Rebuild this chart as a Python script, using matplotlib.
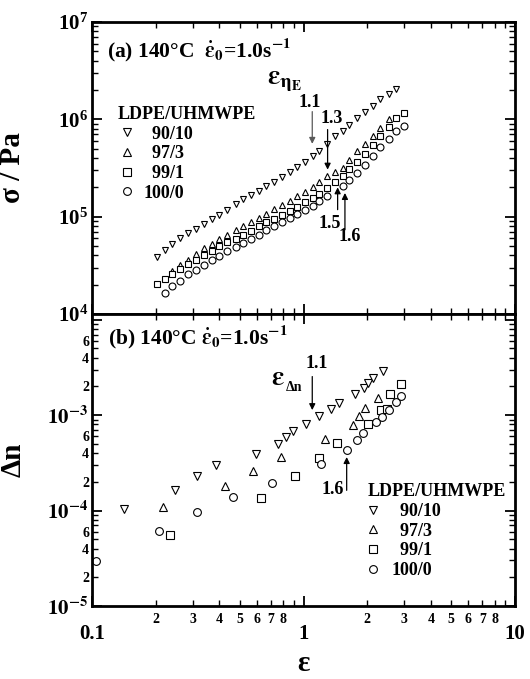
import matplotlib.pyplot as plt
from matplotlib.ticker import FixedLocator, FixedFormatter, NullFormatter, LogLocator, LogFormatterMathtext
from matplotlib.lines import Line2D

plt.rcParams['font.family'] = ['Liberation Serif', 'DejaVu Serif']
plt.rcParams['font.weight'] = 'bold'
plt.rcParams['mathtext.fontset'] = 'stix'
plt.rcParams['mathtext.default'] = 'bf'

# ---- (a) tensile stress growth, sigma / Pa vs Hencky strain
eps_a_9010 = [0.202, 0.221, 0.240, 0.261, 0.285, 0.310, 0.337, 0.368, 0.400, 0.436, 0.477,
              0.518, 0.562, 0.614, 0.667, 0.724, 0.791, 0.859, 0.933, 1.018, 1.107, 1.189,
              1.293, 1.411, 1.533, 1.636, 1.791, 1.954, 2.124, 2.308, 2.527, 2.737]
sig_9010 = [3.89e4, 4.56e4, 5.22e4, 5.97e4, 6.77e4, 7.45e4, 8.39e4, 9.44e4, 1.046e5, 1.178e5,
            1.337e5, 1.517e5, 1.654e5, 1.834e5, 2.05e5, 2.29e5, 2.56e5, 2.85e5, 3.21e5, 3.62e5,
            4.17e5, 4.70e5, 5.59e5, 6.70e5, 7.55e5, 8.84e5, 1.035e6, 1.18e6, 1.366e6, 1.60e6,
            1.83e6, 2.06e6]

eps_a_973 = [0.240, 0.261, 0.285, 0.310, 0.337, 0.368, 0.400, 0.436, 0.477, 0.518, 0.562,
             0.614, 0.667, 0.724, 0.791, 0.859, 0.933, 1.018, 1.107, 1.189, 1.293, 1.411,
             1.533, 1.636, 1.791, 1.954, 2.124, 2.308, 2.527]
sig_973 = [2.79e4, 3.20e4, 3.60e4, 4.12e4, 4.75e4, 5.22e4, 5.87e4, 6.51e4, 7.33e4, 8.06e4,
           8.79e4, 9.66e4, 1.071e5, 1.197e5, 1.326e5, 1.458e5, 1.615e5, 1.79e5, 2.00e5, 2.25e5,
           2.60e5, 2.88e5, 3.16e5, 3.85e5, 4.70e5, 5.63e5, 6.70e5, 8.16e5, 1.01e6]

eps_a_991 = [0.202, 0.221, 0.240, 0.261, 0.285, 0.310, 0.337, 0.368, 0.400, 0.436, 0.477,
             0.518, 0.562, 0.614, 0.667, 0.724, 0.791, 0.859, 0.933, 1.018, 1.107, 1.189,
             1.293, 1.411, 1.533, 1.636, 1.791, 1.954, 2.124, 2.308, 2.527, 2.737, 2.995]
sig_991 = [2.04e4, 2.28e4, 2.56e4, 2.88e4, 3.25e4, 3.60e4, 4.02e4, 4.46e4, 4.94e4, 5.47e4,
           5.92e4, 6.51e4, 7.16e4, 7.93e4, 8.72e4, 9.44e4, 1.046e5, 1.132e5, 1.255e5, 1.401e5,
           1.553e5, 1.708e5, 1.968e5, 2.27e5, 2.60e5, 3.09e5, 3.65e5, 4.45e5, 5.41e5, 6.70e5,
           8.36e5, 1.035e6, 1.166e6]

eps_a_1000 = [0.221, 0.240, 0.261, 0.285, 0.310, 0.337, 0.368, 0.400, 0.436, 0.477, 0.518,
              0.562, 0.614, 0.667, 0.724, 0.791, 0.859, 0.933, 1.018, 1.107, 1.189, 1.293,
              1.533, 1.636, 1.791, 1.954, 2.124, 2.308, 2.527, 2.737, 2.995]
sig_1000 = [1.66e4, 1.94e4, 2.19e4, 2.56e4, 2.84e4, 3.20e4, 3.60e4, 3.96e4, 4.39e4, 4.86e4,
            5.34e4, 5.87e4, 6.51e4, 7.21e4, 7.93e4, 8.72e4, 9.66e4, 1.062e5, 1.178e5, 1.295e5,
            1.446e5, 1.615e5, 2.05e5, 2.40e5, 2.81e5, 3.37e5, 4.17e5, 5.16e5, 6.29e5, 7.55e5,
            8.49e5]

# ---- (b) birefringence growth
eps_b_9010 = [0.141, 0.248, 0.313, 0.386, 0.597, 0.760, 0.824, 0.894, 1.026, 1.188, 1.349,
              1.479, 1.755, 1.923, 2.017, 2.131, 2.378]
dn_9010 = [1.04e-4, 1.65e-4, 2.28e-4, 2.98e-4, 3.89e-4, 5.04e-4, 5.92e-4, 6.84e-4, 8.17e-4,
           9.75e-4, 1.156e-3, 1.327e-3, 1.66e-3, 1.95e-3, 2.15e-3, 2.43e-3, 2.93e-3]

eps_b_973 = [0.217, 0.424, 0.575, 0.785, 1.264, 1.711, 1.821, 1.945, 2.25]
dn_973 = [1.08e-4, 1.83e-4, 2.59e-4, 3.64e-4, 5.58e-4, 7.85e-4, 9.84e-4, 1.175e-3, 1.52e-3]

eps_b_991 = [0.233, 0.631, 0.912, 1.179, 1.436, 2.017, 2.317, 2.484, 2.577, 2.875]
dn_991 = [5.59e-5, 1.36e-4, 2.33e-4, 3.58e-4, 5.12e-4, 8.17e-4, 1.13e-3, 1.156e-3, 1.65e-3, 2.12e-3]

eps_b_1000 = [0.1045, 0.208, 0.313, 0.462, 0.711, 1.209, 1.603, 1.795, 1.91, 2.21, 2.36, 2.53,
              2.73, 2.875]
dn_1000 = [2.93e-5, 6.16e-5, 9.6e-5, 1.38e-4, 1.95e-4, 3.05e-4, 4.28e-4, 5.46e-4, 6.52e-4,
           8.51e-4, 9.6e-4, 1.13e-3, 1.38e-3, 1.60e-3]

blend_labels = ['  90/10', '  97/3', '  99/1', '100/0']
markers = ['v', '^', 's', 'o']

# tick labels
x_major = [0.1, 1, 10]
x_major_labels = ['0.1', '1', '10']
x_minor = [0.2, 0.3, 0.4, 0.5, 0.6, 0.7, 0.8, 0.9, 2, 3, 4, 5, 6, 7, 8, 9]
x_minor_labels = ['2', '3', '4', '5', '6', '7', '8', '', '2', '3', '4', '5', '6', '7', '8', '']
dn_major = [1e-5, 1e-4, 1e-3, 1e-2]
dn_major_labels = [r'$10^{-5}$', r'$10^{-4}$', r'$10^{-3}$', '']
dn_minor = [m * d for d in [1e-5, 1e-4, 1e-3] for m in range(2, 10)]
dn_minor_labels = [str(m) if m in (2, 4, 6) else '' for d in range(3) for m in range(2, 10)]

fig = plt.figure(figsize=(5.30, 6.79), dpi=100)
ax1 = fig.add_axes([0.1736, 0.5376, 0.7981, 0.4300])
ax2 = fig.add_axes([0.1736, 0.1075, 0.7981, 0.4301])

ms = 5.0
mew = 0.8
data_a = [(eps_a_9010, sig_9010), (eps_a_973, sig_973), (eps_a_991, sig_991), (eps_a_1000, sig_1000)]
data_b = [(eps_b_9010, dn_9010), (eps_b_973, dn_973), (eps_b_991, dn_991), (eps_b_1000, dn_1000)]
for (x, y), m in zip(data_a, markers):
    ax1.plot(x, y, ls='none', marker=m, ms=ms, mfc='white', mec='black', mew=mew)
for (x, y), m in zip(data_b, markers):
    ax2.plot(x, y, ls='none', marker=m, ms=ms + 0.6, mfc='white', mec='black', mew=mew)

for ax in (ax1, ax2):
    ax.set_xscale('log')
    ax.set_yscale('log')
    ax.set_xlim(0.1, 10)
    for s in ax.spines.values():
        s.set_linewidth(2)
    ax.tick_params(which='both', direction='in', top=True, right=True)
    ax.tick_params(which='major', length=7, width=1.3)
    ax.tick_params(which='minor', length=4, width=1.0)
    ax.xaxis.set_major_locator(FixedLocator(x_major))
    ax.xaxis.set_minor_locator(FixedLocator(x_minor))

ax1.set_ylim(1e4, 1e7)
ax1.xaxis.set_major_formatter(NullFormatter())
ax1.xaxis.set_minor_formatter(NullFormatter())
ax1.yaxis.set_major_locator(LogLocator(base=10))
ax1.yaxis.set_minor_locator(LogLocator(base=10, subs=range(2, 10)))
ax1.yaxis.set_major_formatter(LogFormatterMathtext())
ax1.yaxis.set_minor_formatter(NullFormatter())
ax1.tick_params(axis='y', which='major', labelsize=15, pad=3)

ax2.set_ylim(1e-5, 1.15e-2)
ax2.xaxis.set_major_formatter(FixedFormatter(x_major_labels))
ax2.xaxis.set_minor_formatter(FixedFormatter(x_minor_labels))
ax2.tick_params(axis='x', which='major', labelsize=15, pad=13)
ax2.tick_params(axis='x', which='minor', labelsize=10, pad=5)
ax2.yaxis.set_major_locator(FixedLocator(dn_major))
ax2.yaxis.set_major_formatter(FixedFormatter(dn_major_labels))
ax2.yaxis.set_minor_locator(FixedLocator(dn_minor))
ax2.yaxis.set_minor_formatter(FixedFormatter(dn_minor_labels))
ax2.tick_params(axis='y', which='major', labelsize=15, pad=3)
ax2.tick_params(axis='y', which='minor', labelsize=10, pad=2)

ax1.set_ylabel('σ / Pa', fontsize=21, fontweight='bold')
ax1.yaxis.set_label_coords(-0.155, 0.5)
ax2.set_ylabel('Δn', fontsize=21, fontweight='bold')
ax2.yaxis.set_label_coords(-0.155, 0.5)
ax2.set_xlabel('ε', fontsize=21, fontweight='bold')
ax2.xaxis.set_label_coords(0.5, -0.15)

ax1.text(0.035, 0.905, r'(a) 140°C  $\dot{\varepsilon}_0$=1.0s$^{-1}$', transform=ax1.transAxes,
         fontsize=15.5, va='center', ha='left')
ax2.text(0.038, 0.92, r'(b) 140°C $\dot{\varepsilon}_0$=1.0s$^{-1}$', transform=ax2.transAxes,
         fontsize=15.5, va='center', ha='left')

# onset strains
arr = dict(arrowstyle='-|>', lw=0.9, color='black', mutation_scale=9, shrinkA=0, shrinkB=0)
ax1.text(0.669, 2.45e6, r'$\varepsilon_{\eta_{E}}$', fontsize=20, va='center', ha='left')
ax1.text(1.07, 1.49e6, '1.1', fontsize=13, ha='center', va='center')
ax1.annotate('', xy=(1.1, 5.6e5), xytext=(1.1, 1.2e6), arrowprops=dict(arr, color='0.35'))
ax1.text(1.36, 1.03e6, '1.3', fontsize=13, ha='center', va='center')
ax1.annotate('', xy=(1.3, 3.04e5), xytext=(1.3, 7.85e5), arrowprops=arr)
ax1.text(1.33, 8.6e4, '1.5', fontsize=13, ha='center', va='center')
ax1.annotate('', xy=(1.45, 2.0e5), xytext=(1.45, 1.18e5), arrowprops=arr)
ax1.text(1.65, 6.25e4, '1.6', fontsize=13, ha='center', va='center')
ax1.annotate('', xy=(1.57, 1.75e5), xytext=(1.57, 7.33e4), arrowprops=arr)

ax2.text(0.70, 2.4e-3, r'$\varepsilon$', fontsize=20, va='center', ha='left')
ax2.annotate('Δn', xy=(0.70, 2.4e-3), xytext=(10.5, -6), textcoords='offset points',
             fontsize=10, va='center', ha='left')
ax2.text(1.15, 3.5e-3, '1.1', fontsize=13, ha='center', va='center')
ax2.annotate('', xy=(1.1, 1.13e-3), xytext=(1.1, 2.54e-3), arrowprops=arr)
ax2.text(1.37, 1.65e-4, '1.6', fontsize=13, ha='center', va='center')
ax2.annotate('', xy=(1.6, 3.64e-4), xytext=(1.6, 1.63e-4), arrowprops=arr)

# legends
handles = [Line2D([], [], ls='none', marker=m, ms=ms + 0.6, mfc='white', mec='black', mew=mew)
           for m in markers]
leg_kw = dict(frameon=False, loc='upper left', borderpad=0, borderaxespad=0,
              title='LDPE/UHMWPE', alignment='left', labelspacing=0.15,
              prop={'size': 13, 'weight': 'bold'},
              title_fontproperties={'size': 13, 'weight': 'bold'})
ax1.legend(handles, blend_labels, bbox_to_anchor=(0.061, 0.713), handlelength=1.0,
           handletextpad=0.4, **leg_kw)
ax2.legend(handles, blend_labels, bbox_to_anchor=(0.652, 0.42), handlelength=0.6,
           handletextpad=0.7, **leg_kw)

fig.savefig('out.png', dpi=100)
